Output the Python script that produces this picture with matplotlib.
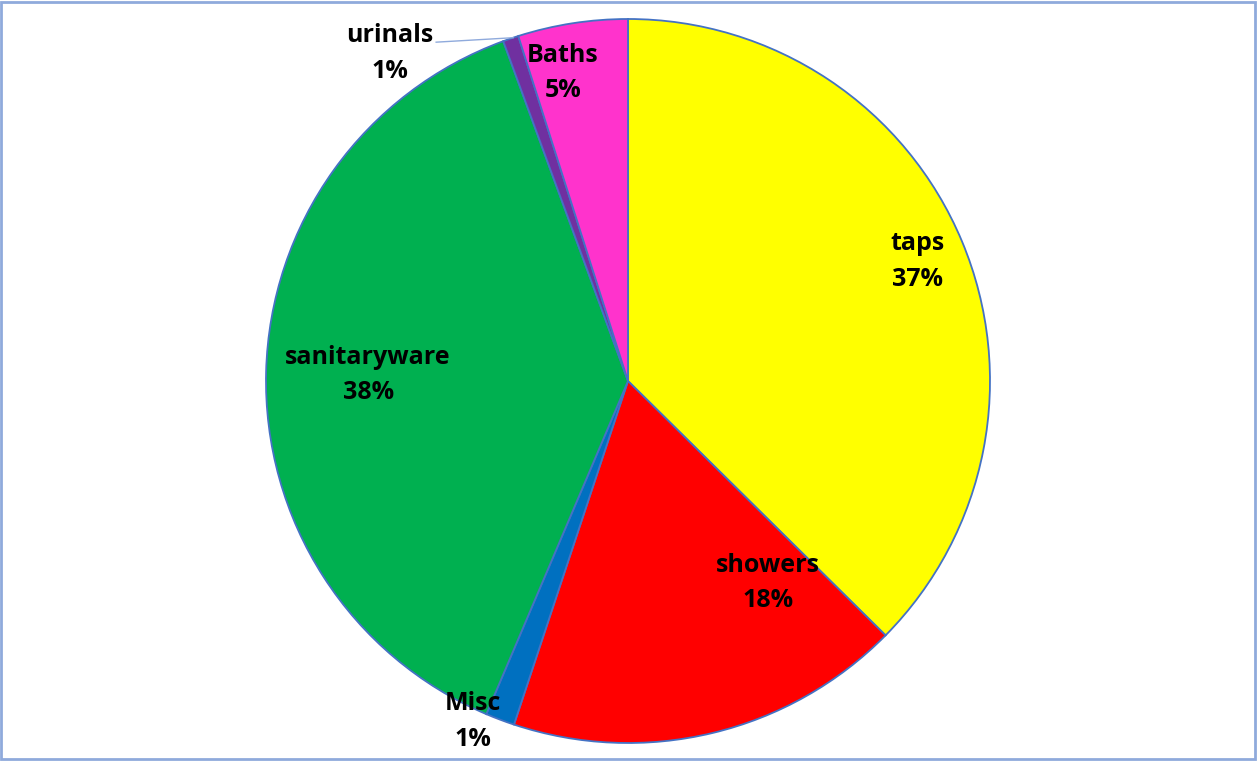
import matplotlib.pyplot as plt
import numpy as np

labels = ['taps', 'showers', 'Misc', 'sanitaryware', 'urinals', 'Baths']
shares = [37.4, 17.7, 1.3, 38.0, 0.7, 4.9]
colors = ['#FFFF00', '#FF0000', '#0070C0', '#00B050', '#7030A0', '#FF33CC']

# label centres in pie-radius units
label_xy = {
    'taps': (0.80, 0.33),
    'showers': (0.387, -0.558),
    'Misc': (-0.428, -0.94),
    'sanitaryware': (-0.718, 0.017),
    'urinals': (-0.657, 0.905),
    'Baths': (-0.18, 0.851),
}

plt.rcParams['font.family'] = ['Open Sans', 'DejaVu Sans']

W, H = 1259, 761
fig = plt.figure(figsize=(W / 100, H / 100), dpi=100)
cx, cy, r = 628, 381, 362
ax = fig.add_axes([(cx - r) / W, (H - cy - r) / H, 2 * r / W, 2 * r / H])

ax.pie(shares, colors=colors, startangle=90, counterclock=False, radius=1,
       wedgeprops=dict(edgecolor='#4472C4', linewidth=1.3))
ax.set_xlim(-1, 1)
ax.set_ylim(-1, 1)
ax.set_aspect('equal')
ax.axis('off')

for lab, val in zip(labels, shares):
    x, y = label_xy[lab]
    ax.text(x, y, f'{lab}\n{val:.0f}%', ha='center', va='center',
            fontsize=18, fontweight='bold', linespacing=1.55, clip_on=False)

# leader line for urinals
ang = np.deg2rad(341.5)
ax.plot([-0.53, np.sin(ang)], [0.936, np.cos(ang)],
        color='#8FAADC', lw=1, clip_on=False)

# outer border
fig.patches.append(plt.Rectangle((0.001, 0.002), 0.996, 0.996, transform=fig.transFigure,
                                 fill=False, edgecolor='#8FAADC', lw=2))

fig.savefig('out.png', dpi=100)
